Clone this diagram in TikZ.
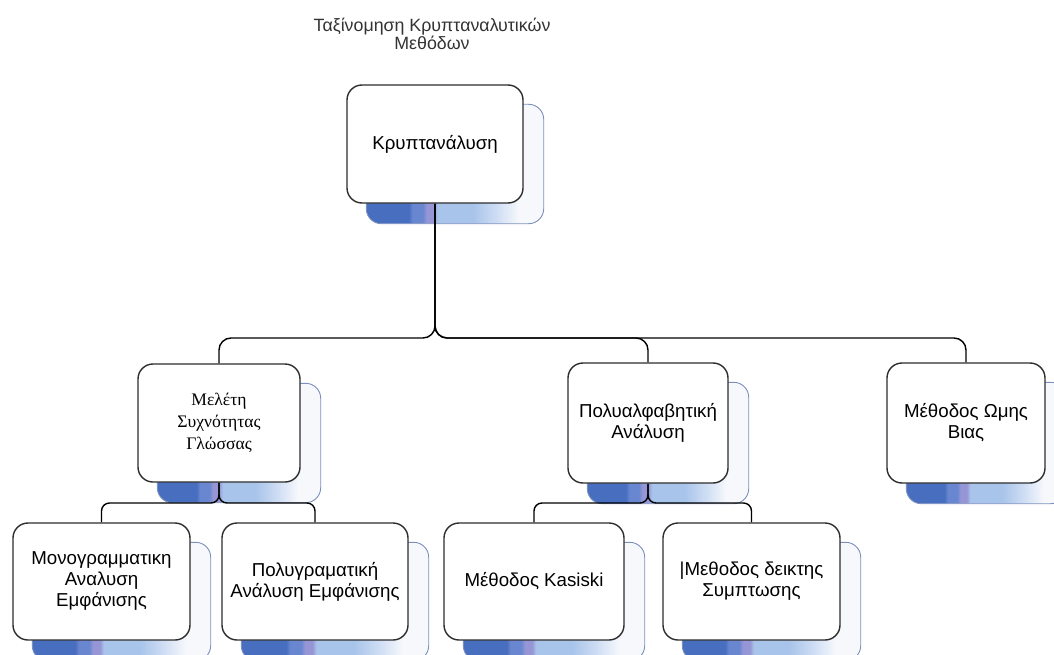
\documentclass[tikz,border=0pt]{standalone}
\usepackage{fontspec}
\setmainfont{Liberation Sans}
\newfontfamily\grserif{Liberation Serif}
\pgfdeclarelayer{shad}
\pgfdeclarelayer{conn}
\pgfsetlayers{shad,conn,main}
\definecolor{sdA}{RGB}{72,110,192}
\definecolor{sdB}{RGB}{105,135,208}
\definecolor{sdC}{RGB}{150,150,214}
\definecolor{sdD}{RGB}{168,196,234}
\definecolor{sdE}{RGB}{208,222,244}
\definecolor{sdF}{RGB}{246,248,252}
\definecolor{shline}{RGB}{125,145,190}
\definecolor{boxline}{RGB}{45,45,45}
\pgfdeclarehorizontalshading{shgrad}{100bp}{color(0bp)=(sdA); color(25bp)=(sdA); color(37bp)=(sdA); color(38bp)=(sdB); color(41bp)=(sdB); color(42bp)=(sdC); color(44bp)=(sdC); color(45bp)=(sdD); color(55bp)=(sdD); color(62bp)=(sdE); color(68bp)=(sdF); color(75bp)=(sdF); color(100bp)=(sdF)}
\tikzset{
  box/.style={draw=boxline, line width=1.4pt, fill=white, rounded corners=15pt,
    align=center, inner sep=4pt, font=\fontsize{18.7}{21}\selectfont},
  shadowst/.style={draw=shline, line width=0.9pt, shading=shgrad, rounded corners=15pt},
  conn/.style={draw=black, line width=1.4pt, rounded corners=12pt},
  connsm/.style={draw=black, line width=1.4pt, rounded corners=8pt},
  title/.style={align=center, font=\fontsize{17.8}{17}\selectfont, text=black!80}
}
\newcommand\dropsh[1]{\begin{pgfonlayer}{shad}\path[shadowst] ([shift={(20,20)}]#1.north west) rectangle ([shift={(20,20)}]#1.south east);\end{pgfonlayer}}
\begin{document}
\begin{tikzpicture}[x=1pt,y=-1pt]
\useasboundingbox (0,0) rectangle (1054,655);
\clip (0,0) rectangle (1054,655);
\begin{pgfonlayer}{shad}
\fill[white] (0,0) rectangle (1054,655);
\end{pgfonlayer}

\node[title] (ttl) at (432,34) {Ταξίνομηση Κρυπταναλυτικών\\Μεθόδων};

\node[box, minimum width=176pt, minimum height=118pt] (root) at (435,144) {Κρυπτανάλυση};

\node[box, minimum width=162pt, minimum height=118pt, font=\grserif\fontsize{17.6}{22}\selectfont] (mel) at (219,423) {Μελέτη\\Συχνότητας\\Γλώσσας};
\node[box, minimum width=160pt, minimum height=120pt] (pol) at (648,423) {Πολυαλφαβητική\\Ανάλυση};
\node[box, minimum width=158pt, minimum height=120pt] (omh) at (966,423) {Μέθοδος Ωμης\\Βιας};

\node[box, minimum width=177pt, minimum height=117pt] (mono) at (101.5,581.5) {Μονογραμματικη\\Αναλυση\\Εμφάνισης};
\node[box, minimum width=186pt, minimum height=117pt] (polg) at (315,581.5) {Πολυγραματική\\Ανάλυση Εμφάνισης};
\node[box, minimum width=180pt, minimum height=117pt] (kas) at (534,581.5) {Μέθοδος Kasiski};
\node[box, minimum width=177pt, minimum height=117pt] (sym) at (751.5,581.5) {|Μεθοδος δεικτης\\Συμπτωσης};

\foreach \n in {root,mel,pol,omh,mono,polg,kas,sym}{\dropsh{\n}}

\coordinate (busA) at (0,338);
\coordinate (busB) at (0,503);
\begin{pgfonlayer}{conn}
\draw[conn] (root.south) -- (root.south |- busA) -| (mel.north);
\draw[conn] (root.south) -- (root.south |- busA) -| (pol.north);
\draw[conn] (root.south) -- (root.south |- busA) -| (omh.north);
\draw[connsm] (mel.south) -- (mel.south |- busB) -| (mono.north);
\draw[connsm] (mel.south) -- (mel.south |- busB) -| (polg.north);
\draw[connsm] (pol.south) -- (pol.south |- busB) -| (kas.north);
\draw[connsm] (pol.south) -- (pol.south |- busB) -| (sym.north);
\end{pgfonlayer}
\end{tikzpicture}
\end{document}
